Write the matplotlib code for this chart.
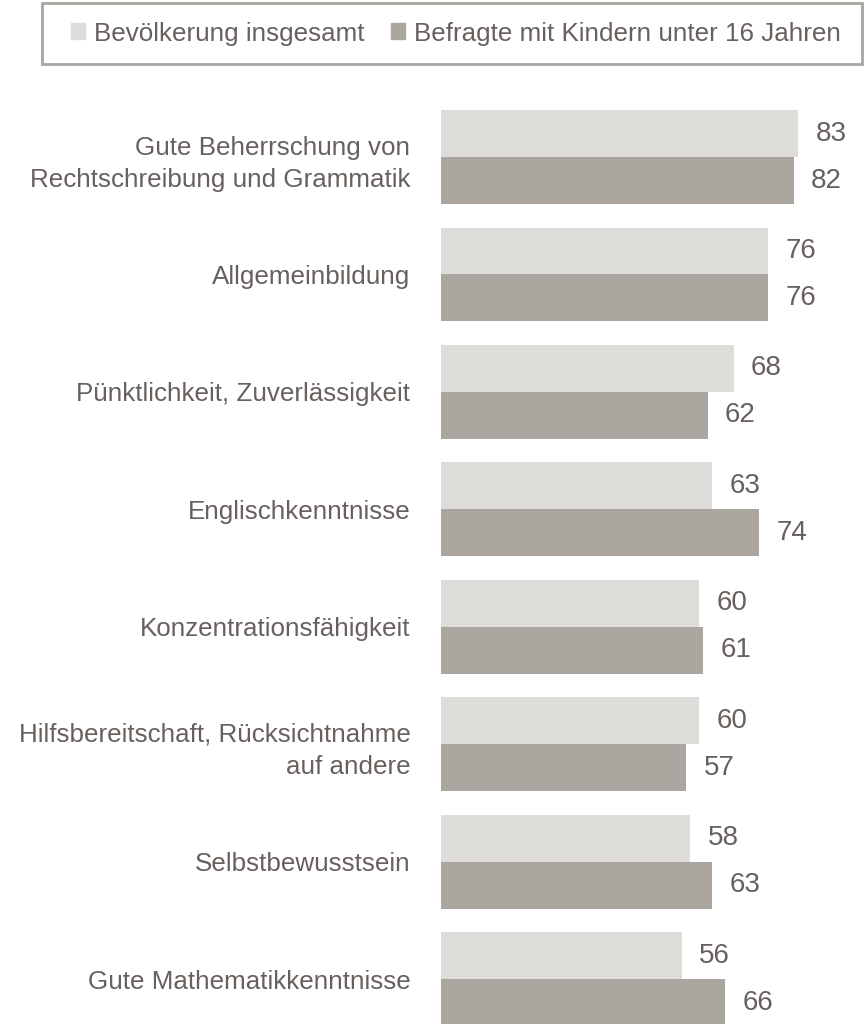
import matplotlib
matplotlib.use("Agg")
from matplotlib import pyplot as plt
from matplotlib.patches import Patch, Rectangle
import numpy as np

categories = ["Gute Beherrschung von\nRechtschreibung und Grammatik",
              "Allgemeinbildung",
              "Pünktlichkeit, Zuverlässigkeit",
              "Englischkenntnisse",
              "Konzentrationsfähigkeit",
              "Hilfsbereitschaft, Rücksichtnahme\nauf andere",
              "Selbstbewusstsein",
              "Gute Mathematikkenntnisse"]
bevoelkerung = [83, 76, 68, 63, 60, 60, 58, 56]
kinder = [82, 76, 62, 74, 61, 57, 63, 66]
series_names = ["Bevölkerung insgesamt", "Befragte mit Kindern unter 16 Jahren"]

light = "#dddcd9"
dark = "#aba7a0"
txt = "#67605d"

plt.rcParams['font.family'] = ['Liberation Sans', 'DejaVu Sans']

fig = plt.figure(figsize=(8.66, 10.24), dpi=100)
ax = fig.add_axes([441/866, 0, 1 - 441/866, 924/1024])

y = np.arange(len(categories))
ax.barh(y - 0.2, bevoelkerung, height=0.4, color=light)
ax.barh(y + 0.2, kinder, height=0.4, color=dark)

for i in range(len(categories)):
    ax.annotate(str(bevoelkerung[i]), (bevoelkerung[i], y[i] - 0.2), xytext=(12.5, 0),
                textcoords="offset points", va="center", ha="left", fontsize=20, color=txt)
    ax.annotate(str(kinder[i]), (kinder[i], y[i] + 0.2), xytext=(12.5, 0),
                textcoords="offset points", va="center", ha="left", fontsize=20, color=txt)

ax.set_xlim(0, 98.8)
ax.set_ylim(7.383, -0.486)
ax.set_yticks(y)
ax.set_yticklabels(categories, fontsize=18.7, color=txt, linespacing=1.45)
ax.tick_params(axis="y", length=0, pad=22)
ax.set_xticks([])
for s in ax.spines.values():
    s.set_visible(False)

# legend box drawn separately
fig.patches.append(Rectangle((42/866, 1 - 64/1024), 820/866, 61/1024, transform=fig.transFigure,
                             facecolor="white", edgecolor="#a8a49e", linewidth=2, zorder=0))
handles = [Patch(color=light), Patch(color=dark)]
leg = fig.legend(handles, series_names, loc="center", bbox_to_anchor=(456/866, 1 - 33.5/1024),
                 ncol=2, fontsize=18.7, frameon=False, handlelength=0.55,
                 handleheight=0.55, handletextpad=0.35, columnspacing=1.0,
                 labelcolor=txt)

fig.savefig("out.png", dpi=100)
